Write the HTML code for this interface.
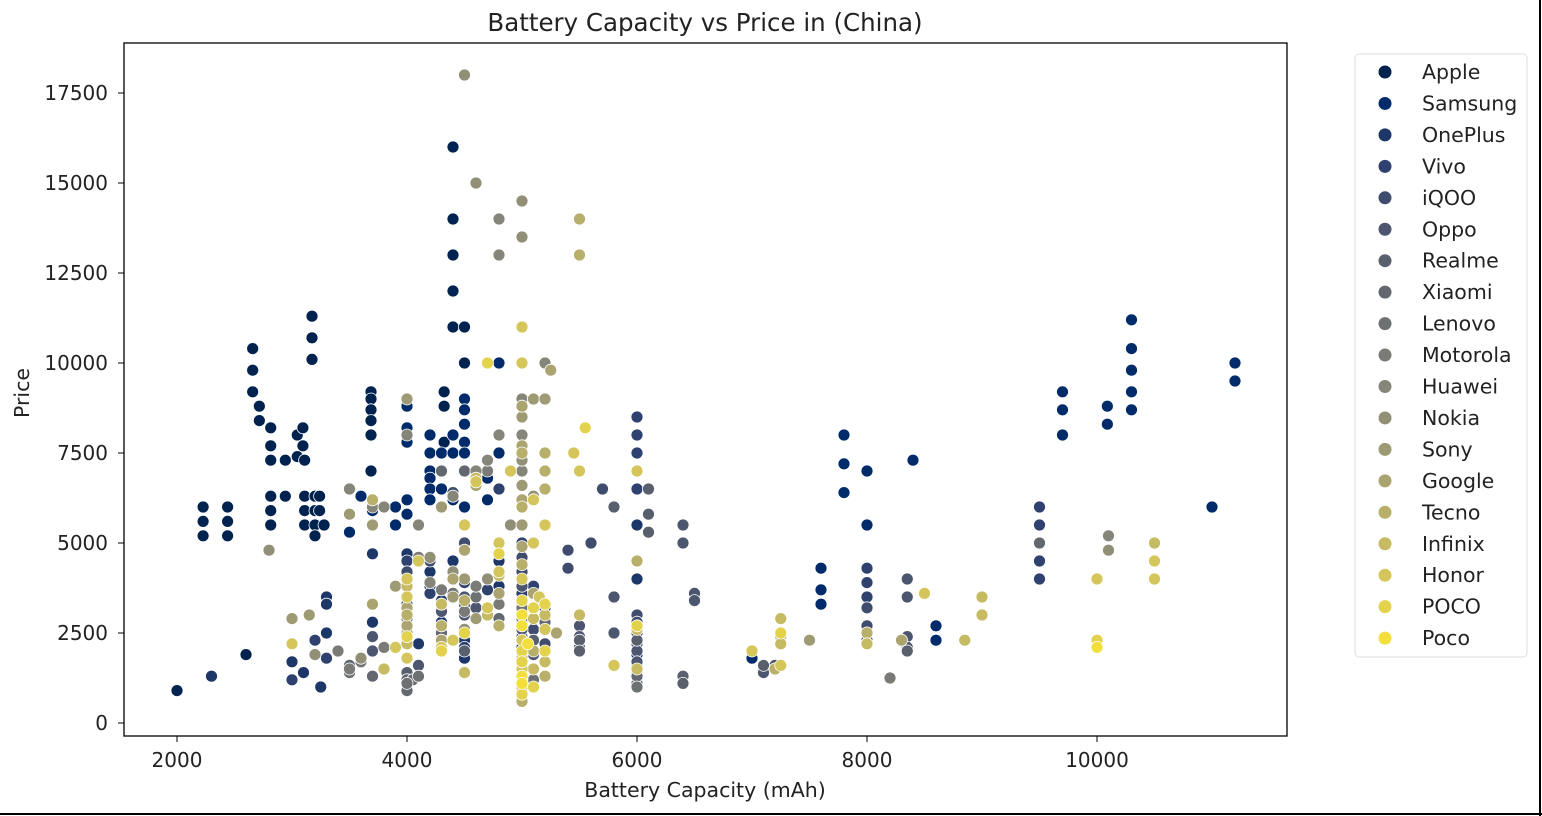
<!DOCTYPE html>
<html><head><meta charset="utf-8">
<style>
body{margin:0;background:#fff;width:1542px;height:816px;overflow:hidden;font-family:"DejaVu Sans","Liberation Sans",sans-serif;}
svg{position:absolute;left:0;top:0}
</style></head>
<body>
<svg id="chart" width="1542" height="816">
<rect x="0" y="0" width="1542" height="816" fill="#fff"/>
<line x1="1540" y1="0" x2="1540" y2="816" stroke="#000" stroke-width="2"/>
<line x1="0" y1="814" x2="1542" y2="814" stroke="#000" stroke-width="2"/>
<text x="705" y="31" text-anchor="middle" font-size="24.5" fill="#222">Battery Capacity vs Price in (China)</text>
<text x="705" y="797" text-anchor="middle" font-size="20.5" fill="#222">Battery Capacity (mAh)</text>
<text x="29" y="393" text-anchor="middle" font-size="20.5" fill="#222" transform="rotate(-90 29 393)">Price</text>
<g id="ticks"></g>
<g id="points"></g>
<rect x="124" y="43" width="1163" height="693" fill="none" stroke="#000" stroke-width="1.3"/>
<rect x="1355" y="54" width="172" height="603" rx="4" fill="#fff" stroke="#ddd"/>
<g id="legend"></g>
</svg>
<script>
const xTicks=[2000,4000,6000,8000,10000];
const yTicks=[0,2500,5000,7500,10000,12500,15000,17500];
const brands=["Apple","Samsung","OnePlus","Vivo","iQOO","Oppo","Realme","Xiaomi","Lenovo","Motorola","Huawei","Nokia","Sony","Google","Tecno","Infinix","Honor","POCO","Poco"];
const colors=["#00224e","#002b6a","#1d3769","#2f416e","#404c6e","#4d566f","#585f6d","#636870","#6e7172","#7a7b77","#868579","#928f77","#9e9a74","#aba470","#b8af6a","#c6ba62","#d4c65a","#e3d34c","#f2df3c"];
const apple=[[2000,900],[2227,6000],[2227,5600],[2227,5200],[2440,6000],[2440,5600],[2440,5200],[2658,10400],[2658,9800],[2658,9200],[2716,8800],[2716,8400],[2815,8200],[2815,7700],[2815,7300],[2815,6300],[2815,5900],[2815,5500],[2942,7300],[2942,6300],[3046,7400],[3046,8000],[3095,8200],[3095,7700],[3110,7300],[3110,6300],[3110,5900],[3110,5500],[3174,11300],[3174,10700],[3174,10100],[3200,6300],[3200,5900],[3200,5500],[3200,5200],[3240,6300],[3240,5900],[3279,5500],[3687,9200],[3687,9000],[3687,8700],[3687,8400],[3687,8000],[3687,7000],[4323,9200],[4323,8800],[4323,7800],[4400,16000],[4400,14000],[4400,13000],[4400,12000],[4400,11000],[4500,11000],[4500,10000],[2600,1900]];
const samsung=[[9700,9200],[9700,8700],[9700,8000],[10090,8800],[10090,8300],[10300,11200],[10300,10400],[10300,9800],[10300,9200],[10300,8700],[11200,10000],[11200,9500],[11000,6000],[7800,8000],[7800,7200],[7800,6400],[8000,7000],[8000,5500],[8400,7300],[7600,4300],[7600,3700],[7600,3300],[8600,2700],[8600,2300],[7000,1800],[4000,8800],[4000,8200],[4000,7800],[4000,6200],[4000,5800],[4200,8000],[4200,7500],[4200,7000],[4200,6800],[4200,6500],[4200,6200],[4300,7500],[4300,7000],[4300,6500],[4400,8000],[4400,7500],[4500,9000],[4500,8700],[4500,8300],[4500,7800],[4500,7500],[4700,6800],[4700,6200],[4800,10000],[4800,7500],[3900,5500],[3700,5900],[3600,6300],[3500,5800],[3500,5300],[3900,6000],[4400,6200],[4500,6000],[5000,3500],[6000,1600],[6000,1900],[7100,1500]];
const oneplus=[[2300,1300],[3000,1700],[3100,1400],[3250,1000],[3300,3500],[3300,3300],[3300,2500],[3700,4700],[3700,2800],[4000,4700],[4000,3500],[4100,2200],[4200,4200],[4200,3800],[4300,3400],[4300,2800],[4400,4500],[4500,3300],[4500,2300],[4500,1800],[4800,3800],[4800,4500],[5000,2800],[5000,2100],[5100,3200],[5000,5500],[6000,5500],[6000,4000]];
const vivo=[[3000,1200],[3200,2300],[3300,1800],[4000,2600],[4000,4500],[4200,3600],[4300,2000],[4500,4800],[4500,3900],[4500,2100],[4700,3700],[4800,6500],[5000,5000],[5000,3600],[5000,3000],[5100,3800],[5200,3200],[6000,7500],[6000,8000],[6000,8500],[6000,6500],[8000,4300],[8000,3900],[8000,3500],[9500,6000],[9500,5500],[9500,5000],[9500,4500],[9500,4000]];
const iqoo=[[4000,4200],[4000,3300],[4200,4500],[4300,6000],[4400,6400],[4500,5000],[5000,4600],[5000,4200],[5000,2400],[5100,2600],[5200,2200],[5400,4800],[5400,4300],[5600,5000],[5700,6500],[6000,3000],[6000,2800],[6000,2200],[8000,3200],[8000,2700],[8000,2300]];
const oppo=[[3700,2400],[3700,2000],[4100,1600],[4300,3100],[4500,3000],[4500,3500],[4600,3200],[5000,3800],[5000,2600],[5100,1900],[5500,2700],[5500,2400],[5500,2100],[5800,3500],[5800,2500],[6000,2500],[6000,2000],[6000,1700],[6400,5500],[6400,5000],[6500,3600],[6500,3400],[7100,1400],[7200,1600],[8000,2200],[8350,4000],[8350,3500],[8350,2400],[8350,2100]];
const realme=[[4000,1400],[4000,1200],[4500,2000],[5000,3400],[5000,3100],[5000,2900],[5000,1900],[5100,2300],[5500,2300],[5500,2000],[5800,6000],[6000,2300],[6000,1400],[6000,1100],[6100,6500],[6100,5800],[6100,5300],[6400,1300],[6400,1100],[7100,1600],[8350,2000]];
const xiaomi=[[3500,1600],[3700,1300],[4000,1000],[4000,900],[4050,1200],[4300,2500],[4300,7000],[4500,7000],[4600,3800],[4800,2900],[5000,3300],[5000,1600],[5200,2800],[6000,1300],[9500,5000],[8000,2500]];
const lenovo=[[3500,1400],[3600,1700],[4000,1100],[4100,1300],[4300,3300],[4400,3600],[4600,3500],[4700,4000],[5000,3200],[5000,900],[5100,1200],[6000,1000]];
const motorola=[[3400,2000],[3500,1500],[3800,2100],[4000,2900],[4100,4600],[4300,3700],[4500,3100],[4600,3800],[4700,7000],[4800,3300],[5000,1300],[5000,700],[8200,1250]];
const huawei=[[3500,6500],[3700,6000],[3800,6000],[4000,8000],[4100,5500],[4200,3900],[4400,6300],[4600,7000],[4700,7300],[4800,14000],[4800,13000],[4800,8000],[4900,7000],[5000,9000],[5000,8000],[5000,7000],[5100,9000],[5200,10000],[10100,5200]];
const nokia=[[2800,4800],[3200,1900],[3600,1800],[4000,3800],[4200,4600],[4400,4200],[4500,18000],[4600,15000],[4700,4000],[4900,5500],[5000,14500],[5000,13500],[5000,7300],[5100,6300],[4500,2600],[10100,4800]];
const sony=[[3000,2900],[3150,3000],[3500,5800],[3700,5500],[3900,3800],[4000,9000],[4000,2500],[4300,6000],[4400,3500],[4500,4000],[4600,2900],[5000,8500],[5000,6600],[5000,5500],[5100,9000],[5200,9000],[7500,2300],[7200,1500]];
const google=[[3700,3300],[4000,3200],[4000,2700],[4300,2300],[4400,4000],[4500,4800],[4600,6600],[4800,3600],[5000,8800],[5000,7700],[5000,6200],[5000,4900],[5100,3600],[5250,9800],[5200,6500],[5300,2500],[8300,2300]];
const tecno=[[3700,6200],[4000,3000],[4300,2700],[4500,3400],[4800,2700],[5000,7500],[5000,6000],[5000,4400],[5000,1200],[5000,600],[5100,2000],[5200,1300],[5200,7500],[5200,7000],[5200,6500],[5500,14000],[5500,13000],[6000,4500],[7250,2400],[8000,2500],[7200,1500]];
const infinix=[[3800,1500],[4000,3800],[4000,2200],[4300,3300],[4500,1400],[4600,6800],[4700,3000],[4800,4100],[5000,1800],[5000,1000],[5100,1500],[5100,2900],[5200,3000],[5200,1700],[5500,3000],[6000,7000],[6000,2600],[6000,1500],[7250,2900],[7250,2200],[8000,2200],[8850,2300],[9000,3500],[9000,3000],[10500,5000]];
const honor=[[3000,2200],[3900,2100],[4000,4000],[4000,3500],[4000,1800],[4100,4500],[4300,2100],[4400,2300],[4500,5500],[4600,6700],[4700,3200],[4800,4200],[4800,5000],[4900,7000],[5000,11000],[5000,10000],[5000,4000],[5000,2300],[5000,1500],[5100,5000],[5100,6200],[5150,3500],[5200,5500],[5200,2600],[5450,7500],[5500,7000],[5800,1600],[6000,7000],[8500,3600],[10000,4000],[10500,4500],[10500,4000],[7250,1600],[7000,2000]];
const poco=[[4000,2400],[4300,2000],[4500,2500],[4700,10000],[4800,4700],[5000,3400],[5000,2000],[5000,1700],[5000,800],[5100,3200],[5100,1000],[5200,2000],[5200,3300],[5550,8200],[6000,2700],[7250,2500],[10000,2300]];
const poco2=[[5000,3000],[5000,2700],[5000,1300],[5000,1100],[5050,2200],[10000,2100]];
const series=[apple,samsung,oneplus,vivo,iqoo,oppo,realme,xiaomi,lenovo,motorola,huawei,nokia,sony,google,tecno,infinix,honor,poco,poco2];

const NS="http://www.w3.org/2000/svg";
const xs=v=>177+(v-2000)*0.115;
const ys=v=>723-v*0.036;
const tg=document.getElementById("ticks");
function mk(tag,attrs,parent){const e=document.createElementNS(NS,tag);for(const k in attrs)e.setAttribute(k,attrs[k]);parent.appendChild(e);return e;}
xTicks.forEach(t=>{
  const l=mk("line",{x1:xs(t),x2:xs(t),y1:736,y2:742,stroke:"#000"},tg);
  
  
  const tx=mk("text",{x:xs(t),y:767,"text-anchor":"middle","font-size":"20",fill:"#222"},tg);
  tx.textContent=t;
  
  
});
yTicks.forEach(t=>{
  const l=mk("line",{x1:118,x2:124,y1:ys(t),y2:ys(t),stroke:"#000"},tg);
  
  
  const tx=mk("text",{x:108,y:ys(t)+7,"text-anchor":"end","font-size":"20",fill:"#222"},tg);
  tx.textContent=t;
  
  
});
const pg=document.getElementById("points");
series.forEach((s,i)=>{
  s.forEach(p=>{
    const c=mk("circle",{cx:xs(p[0]),cy:ys(p[1]),r:6,fill:colors[i],stroke:"#fff","stroke-width":"0.8"},pg);
    
    
  });
});
const lg=document.getElementById("legend");
brands.forEach((b,i)=>{
  const y=72+i*31.45;
  const c=mk("circle",{cx:1385,cy:y,r:6.5,fill:colors[i]},lg);
  
  
  const t=mk("text",{x:1422,y:y+7,"font-size":"20.5",fill:"#222"},lg);
  t.textContent=b;
  
  
});
</script>
</body></html>
